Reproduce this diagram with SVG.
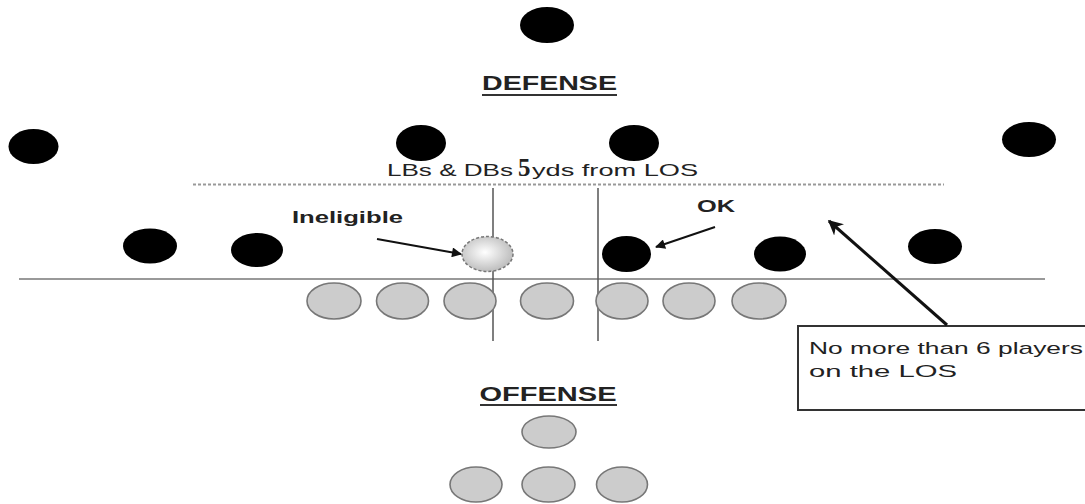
<svg xmlns="http://www.w3.org/2000/svg" width="1085" height="504" viewBox="0 0 1085 504">
<style>
.def{fill:#000}
.off{fill:#cccccc;stroke:#777;stroke-width:1.6}
.t{font-family:"Liberation Sans",Arial,sans-serif;fill:#222}
.b{font-weight:bold}
.h{font-size:20px;font-weight:bold;fill:#222}
.ln{stroke:#777;stroke-width:1.6;fill:none}
.arr{stroke:#111;fill:none}
</style>
<defs>
<radialGradient id="g" cx="0.45" cy="0.45" r="0.6">
<stop offset="0" stop-color="#ffffff"/>
<stop offset="1" stop-color="#b8b8b8"/>
</radialGradient>
<marker id="ah" viewBox="0 0 10 10" refX="9" refY="5" markerWidth="6" markerHeight="5" orient="auto" markerUnits="strokeWidth">
<path d="M0,0 L10,5 L0,10 z" fill="#111"/>
</marker>
<marker id="ah2" viewBox="0 0 10 10" refX="9" refY="5" markerWidth="5" markerHeight="5" orient="auto" markerUnits="strokeWidth">
<path d="M0,0 L10,5 L0,10 L3,5 z" fill="#111"/>
</marker>
</defs>
<rect width="1085" height="504" fill="#fff"/>

<g id="field">
<line class="ln" x1="19" y1="279" x2="1045" y2="279" stroke-width="2"/>
<line x1="193" y1="184.5" x2="944" y2="184.5" stroke="#999" stroke-width="2" stroke-dasharray="3,2"/>
<line x1="493" y1="188" x2="493" y2="341" stroke="#555" stroke-width="1.5"/>
<line x1="598" y1="188" x2="598" y2="341" stroke="#555" stroke-width="1.5"/>
</g>

<g id="labels">
<text class="t h" x="549.5" y="90" text-anchor="middle" textLength="135" lengthAdjust="spacingAndGlyphs">DEFENSE</text>
<line x1="482" y1="95" x2="617" y2="95" stroke="#333" stroke-width="2"/>
<text class="t h" x="548" y="401" text-anchor="middle" textLength="137" lengthAdjust="spacingAndGlyphs">OFFENSE</text>
<line x1="480" y1="405" x2="617" y2="405" stroke="#333" stroke-width="2"/>
<text class="t" x="387" y="176" font-size="17" fill="#333" textLength="126" lengthAdjust="spacingAndGlyphs">LBs &amp; DBs</text>
<text x="518" y="176" font-family="'Liberation Serif','Times New Roman',serif" font-size="25" font-weight="bold" fill="#222">5</text>
<text class="t" x="532" y="176" font-size="17" fill="#333" textLength="166" lengthAdjust="spacingAndGlyphs">yds from LOS</text>
<text class="t b" x="292" y="223" font-size="17" textLength="111" lengthAdjust="spacingAndGlyphs">Ineligible</text>
<text class="t b" x="697" y="212" font-size="17" textLength="38" lengthAdjust="spacingAndGlyphs">OK</text>
</g>

<g id="defense">
<ellipse id="d-safety" class="def" cx="547" cy="25" rx="27" ry="18"/>
<ellipse id="d-cb-left" class="def" cx="33.5" cy="146.5" rx="25" ry="17.5"/>
<ellipse id="d-lb-left" class="def" cx="421" cy="143" rx="25" ry="18"/>
<ellipse id="d-lb-right" class="def" cx="634" cy="143" rx="25" ry="18"/>
<ellipse id="d-cb-right" class="def" cx="1029" cy="139.5" rx="27" ry="17.5"/>
<ellipse id="d-1" class="def" cx="150" cy="246" rx="27" ry="17.5"/>
<ellipse id="d-2" class="def" cx="257" cy="250" rx="26" ry="17"/>
<ellipse id="d-ineligible" cx="487.5" cy="254" rx="25.5" ry="17.5" fill="url(#g)" stroke="#777" stroke-width="1.5" stroke-dasharray="3,2"/>
<ellipse id="d-ok" class="def" cx="626.5" cy="254" rx="24.5" ry="18"/>
<ellipse id="d-4" class="def" cx="780" cy="254" rx="26" ry="17.5"/>
<ellipse id="d-5" class="def" cx="935" cy="246.5" rx="27" ry="17.5"/>
</g>

<g id="offense">
<ellipse id="o-1" class="off" cx="334" cy="301" rx="27" ry="18"/>
<ellipse id="o-2" class="off" cx="402.5" cy="301" rx="26" ry="18"/>
<ellipse id="o-3" class="off" cx="470" cy="301" rx="26" ry="18"/>
<ellipse id="o-4" class="off" cx="547" cy="301" rx="26.5" ry="18"/>
<ellipse id="o-5" class="off" cx="622" cy="301" rx="26" ry="18"/>
<ellipse id="o-6" class="off" cx="689" cy="301" rx="26" ry="18"/>
<ellipse id="o-7" class="off" cx="759" cy="301" rx="27" ry="18"/>
<ellipse id="o-qb" class="off" cx="549" cy="432" rx="27" ry="16"/>
<ellipse id="o-b1" class="off" cx="476" cy="484.5" rx="26" ry="17.5"/>
<ellipse id="o-b2" class="off" cx="548.5" cy="484.5" rx="26.5" ry="17.5"/>
<ellipse id="o-b3" class="off" cx="622" cy="484.5" rx="25.5" ry="17.5"/>
</g>

<g id="note">
<rect x="798" y="326" width="300" height="84" fill="#fff" stroke="#333" stroke-width="2"/>
<text class="t" x="809" y="354" font-size="17" textLength="274" lengthAdjust="spacingAndGlyphs">No more than 6 players</text>
<text class="t" x="809" y="377" font-size="17" textLength="148" lengthAdjust="spacingAndGlyphs">on the LOS</text>
</g>

<g id="connectors">
<line class="arr" style="stroke-width:2" x1="377" y1="239" x2="461" y2="254" marker-end="url(#ah)"/>
<line class="arr" style="stroke-width:2" x1="715" y1="227" x2="656" y2="247" marker-end="url(#ah)"/>
<line class="arr" style="stroke-width:3" x1="947" y1="325" x2="829" y2="221" marker-end="url(#ah2)"/>
</g>
</svg>
